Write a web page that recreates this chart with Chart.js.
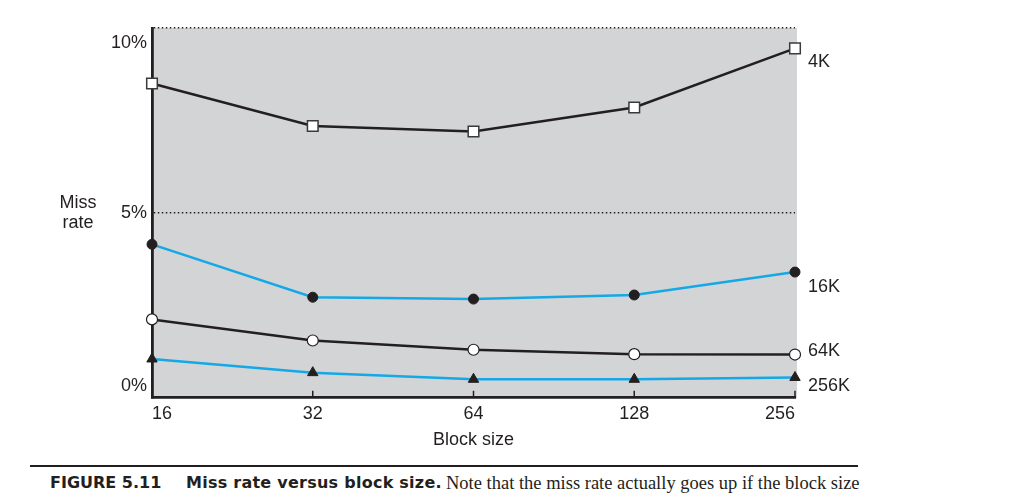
<!DOCTYPE html>
<html>
<head>
<meta charset="utf-8">
<script src="https://cdn.jsdelivr.net/npm/chart.js@4.4.1/dist/chart.umd.min.js"></script>
<style>
  body { margin: 0; background: #fff; width: 1024px; height: 496px; overflow: hidden; }
  #wrap { position: absolute; left: 0; top: 0; width: 1024px; height: 460px; }
  #rule { position: absolute; left: 30px; top: 465px; width: 828px; height: 2px; background: #231f20; }
  .cap { position: absolute; top: 473px; white-space: nowrap; color: #231f20; line-height: 22px; }
  #fig { left: 50px; font: bold 16px "DejaVu Sans", sans-serif; }
  #ttl { left: 186px; font: bold 16px "DejaVu Sans", sans-serif; letter-spacing: 0.25px; }
  #note { left: 446px; font: 18.5px "Liberation Serif", "Times New Roman", serif; }
</style>
</head>
<body>
<div id="wrap"><canvas id="myChart" width="1024" height="460"></canvas></div>
<div id="rule"></div>
<span class="cap" id="fig">FIGURE 5.11</span>
<span class="cap" id="ttl">Miss rate versus block size.</span>
<span class="cap" id="note">Note that the miss rate actually goes up if the block size</span>
<script>
const blockSizes = ['16', '32', '64', '128', '256'];
const miss4K = [8.5, 7.35, 7.2, 7.85, 9.45];
const miss16K = [4.15, 2.72, 2.67, 2.78, 3.4];
const miss64K = [2.12, 1.55, 1.3, 1.18, 1.17];
const miss256K = [1.05, 0.68, 0.5, 0.5, 0.55];
const yTicks = [0, 5, 10];
const yTickLabels = ['0%', '5%', '10%'];

const ink = '#231f20';
const cyan = '#14a8e6';
const font = '"Liberation Sans", Arial, sans-serif';

// little offsets so the hand-set labels sit where the figure puts them
const yLabelShift = { 0: -12, 5: 0, 10: 15 };
const seriesLabelShift = [14, 15, -4, 9];

const extras = {
  id: 'extras',
  beforeDraw(chart) {
    const { ctx, chartArea: a } = chart;
    ctx.save();
    ctx.fillStyle = '#d3d4d6';
    ctx.fillRect(a.left, a.top, a.right - a.left + 2, a.bottom - a.top);
    ctx.restore();
  },
  afterDraw(chart) {
    const { ctx, chartArea: a } = chart;
    const x = chart.scales.x;
    const y = chart.scales.y;
    ctx.save();
    // tick marks point up into the plot in the figure
    ctx.strokeStyle = ink;
    ctx.lineWidth = 1.5;
    x.ticks.forEach((t, i) => {
      if (i === 0) return;
      const px = x.getPixelForTick(i);
      ctx.beginPath();
      ctx.moveTo(px, a.bottom);
      ctx.lineTo(px, a.bottom - 7);
      ctx.stroke();
    });
    ctx.fillStyle = ink;
    ctx.font = '18px ' + font;
    ctx.textBaseline = 'middle';
    ctx.textAlign = 'right';
    yTicks.forEach((v, i) => {
      ctx.fillText(yTickLabels[i], a.left - 5, y.getPixelForValue(v) + yLabelShift[v]);
    });
    ctx.textAlign = 'center';
    ctx.fillText('Miss', 78, 203);
    ctx.fillText('rate', 78, 223);
    ctx.textAlign = 'left';
    chart.data.datasets.forEach((ds, i) => {
      const pt = chart.getDatasetMeta(i).data[ds.data.length - 1];
      ctx.fillText(ds.label, a.right + 13, pt.y + seriesLabelShift[i]);
    });
    ctx.restore();
  }
};

const data = {
  labels: blockSizes,
  datasets: [{
    label: '4K',
    data: miss4K,
    borderColor: ink,
    pointStyle: 'rect',
    pointRadius: 7.5,
    pointBackgroundColor: '#fff',
    pointBorderColor: '#3a3a3a',
    pointBorderWidth: 1.5
  },
  {
    label: '16K',
    data: miss16K,
    borderColor: cyan,
    pointStyle: 'circle',
    pointRadius: 5,
    pointBackgroundColor: ink,
    pointBorderColor: ink,
    pointBorderWidth: 1
  },
  {
    label: '64K',
    data: miss64K,
    borderColor: ink,
    pointStyle: 'circle',
    pointRadius: 5.5,
    pointBackgroundColor: '#fff',
    pointBorderColor: ink,
    pointBorderWidth: 1.2
  },
  {
    label: '256K',
    data: miss256K,
    borderColor: cyan,
    pointStyle: 'triangle',
    pointRadius: 6,
    pointBackgroundColor: ink,
    pointBorderColor: ink,
    pointBorderWidth: 1
  }
  ]
};

data.datasets.forEach((ds) => {
  ds.borderWidth = 2.5;
  ds.tension = 0;
  ds.clip = false;
  ds.fill = false;
});

const config = {
  type: 'line',
  data,
  options: {
    responsive: false,
    animation: false,
    layout: { padding: { left: 152, right: 229, top: 28, bottom: 9 } },
    plugins: { legend: { display: false }, tooltip: { enabled: false } },
    scales: {
      x: {
        offset: false,
        grid: { drawOnChartArea: false, drawTicks: false },
        border: { display: true, color: ink, width: 2.8 },
        ticks: { align: 'inner', color: ink, font: { family: font, size: 18 }, padding: 5, maxRotation: 0 },
        title: { display: true, text: 'Block size', color: ink, font: { family: font, size: 18 }, padding: { top: 0, bottom: 0 } }
      },
      y: {
        min: 0,
        max: 10,
        ticks: { display: false, stepSize: 5 },
        grid: {
          drawTicks: false,
          lineWidth: 1.6,
          color: (c) => (c.tick && c.tick.value === 0 ? 'rgba(0,0,0,0)' : ink)
        },
        border: { display: true, color: ink, width: 2.8, dash: [1.5, 2.5] }
      }
    }
  },
  plugins: [extras]
};

const myChart = new Chart(document.getElementById('myChart').getContext('2d'), config);
</script>
</body>
</html>
